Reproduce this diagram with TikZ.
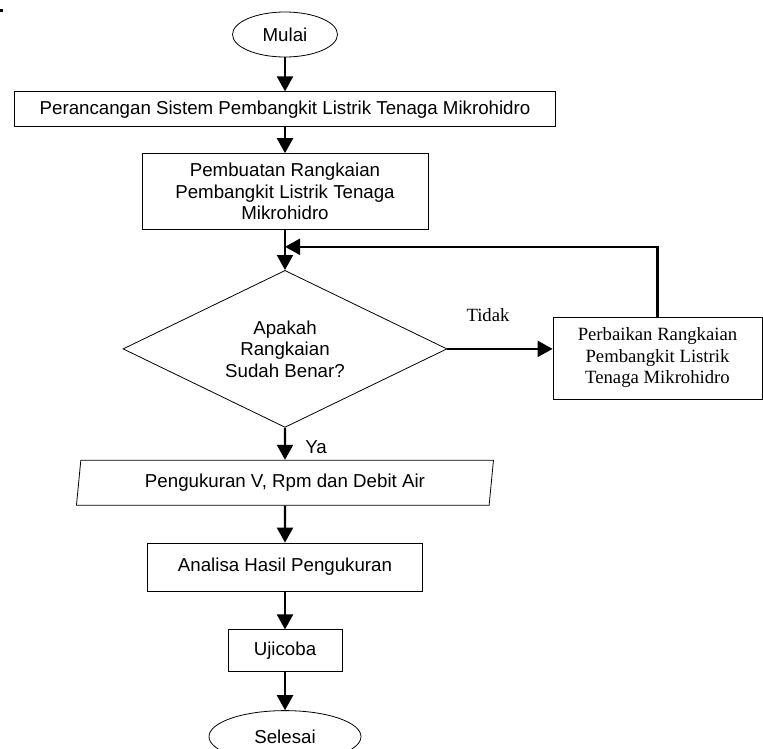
\documentclass[tikz,border=0pt]{standalone}
\usepackage{fontspec}
\setmainfont{Liberation Sans}
\newfontfamily\timesfont{Liberation Serif}
\usepackage{tikz}
\usetikzlibrary{arrows.meta,positioning,shapes.geometric,calc}

\begin{document}
\begin{tikzpicture}[
  x=1pt,y=1pt,
  node distance=34pt,
  base/.style={draw,line width=0.8pt,inner sep=0pt,align=center,
               font=\fontsize{18.7}{21.5}\selectfont},
  term/.style={base,ellipse},
  proc/.style={base,rectangle},
  cond/.style={base,diamond,aspect=2,minimum width=324pt,minimum height=157pt},
  io/.style={base,trapezium,trapezium left angle=76,trapezium right angle=104,
             trapezium stretches body,minimum height=45pt},
  serif/.style={font=\timesfont\fontsize{18.7}{21.5}\selectfont},
  lbl/.style={inner sep=0pt,font=\fontsize{18.7}{21.5}\selectfont},
  arr/.style={-{Triangle[length=15pt,width=16pt]},line width=2.2pt}
]
\useasboundingbox (0,0) rectangle (763,-749);
\clip (0,0) rectangle (763,-749);
\fill (0,-9) rectangle (3,-12);

% Main flow
\node[term,minimum width=105pt,minimum height=45pt] (mulai) at (285,-34.5) {Mulai};
\node[proc,minimum width=541pt,minimum height=35pt,below=34pt of mulai] (rancang)
  {Perancangan Sistem Pembangkit Listrik Tenaga Mikrohidro};
\node[proc,minimum width=286pt,minimum height=76pt,below=26pt of rancang] (buat)
  {Pembuatan Rangkaian\\Pembangkit Listrik Tenaga\\Mikrohidro};
\node[cond,below=40pt of buat] (cek) {Apakah\\Rangkaian\\Sudah Benar?};
\node[io,minimum width=417pt,below=32pt of cek] (ukur) {Pengukuran V, Rpm dan\ Debit Air};
\node[proc,minimum width=275pt,minimum height=48pt,below=37pt of ukur] (analisa)
  {Analisa Hasil Pengukuran};
\node[proc,minimum width=114pt,minimum height=42pt,below=38pt of analisa] (uji) {Ujicoba};
\node[term,minimum width=152pt,minimum height=52pt,below=38pt of uji] (selesai) {Selesai};

% Repair branch
\node[proc,serif,minimum width=209pt,minimum height=82pt] (baiki) at (657.5,-358)
  {Perbaikan Rangkaian\\Pembangkit Listrik\\Tenaga Mikrohidro};
\node[lbl,serif] (tidak) at (488,-315) {Tidak};
\node[lbl] (ya) at (316,-447) {Ya};
\coordinate (balik) at ($(buat.south)!0.42!(cek.north)$);

% Connections
\draw[arr] (mulai) -- (rancang);
\draw[arr] (rancang) -- (buat);
\draw[arr] (buat) -- (cek);
\draw[arr] (cek.east) -- (cek.east -| baiki.west);
\draw[arr] (baiki.north) |- (balik);
\draw[arr] (cek) -- (ukur);
\draw[arr] (ukur) -- (analisa);
\draw[arr] (analisa) -- (uji);
\draw[arr] (uji) -- (selesai);

\end{tikzpicture}
\end{document}
